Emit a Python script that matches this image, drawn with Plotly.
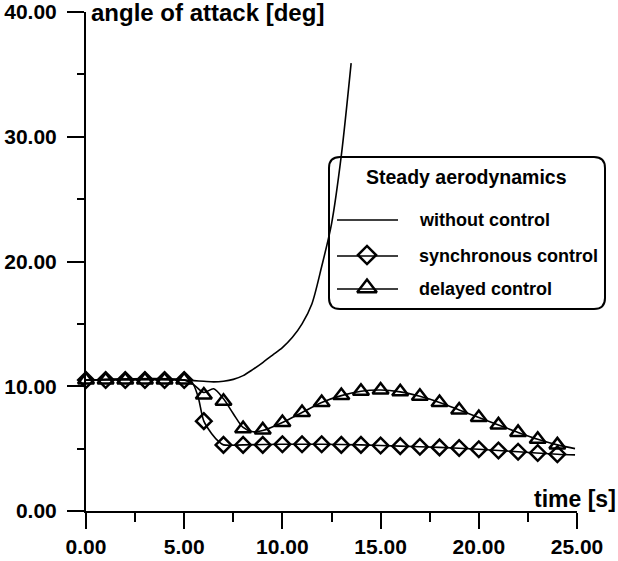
import plotly.graph_objects as go

# ---------------- data ----------------
t_nc_line = [0, 5, 5.5, 6, 6.5, 7, 7.5, 8, 8.5, 9, 9.5, 10, 10.5, 11, 11.5, 12, 12.5, 13, 13.5]
a_nc_line = [10.5, 10.5, 10.45, 10.4, 10.35, 10.4, 10.55, 10.85, 11.35, 11.9, 12.5, 13.1, 13.9, 15.0, 16.6, 19.6, 23.0, 28.5, 35.9]

t_sync_line = [0, 5, 5.4, 5.7, 6, 6.4, 6.8, 7, 8, 10, 12, 14, 16, 18, 20, 22, 24, 24.9]
a_sync_line = [10.5, 10.5, 10.3, 9.2, 7.2, 6.2, 5.5, 5.3, 5.3, 5.35, 5.35, 5.3, 5.2, 5.1, 4.95, 4.75, 4.55, 4.5]

t_del_line = [0, 5, 5.5, 6, 6.5, 7, 7.5, 8, 8.5, 9, 10, 11, 12, 13, 14, 15, 16, 17, 18, 19, 20, 21, 22, 23, 24, 24.9]
a_del_line = [10.5, 10.5, 10.1, 9.5, 9.8, 9.0, 7.8, 6.7, 6.35, 6.45, 7.1, 7.9, 8.7, 9.25, 9.6, 9.7, 9.55, 9.2, 8.7, 8.1, 7.5, 6.9, 6.3, 5.75, 5.3, 5.0]

t_marks = [0, 1, 2, 3, 4, 5, 6, 7, 8, 9, 10, 11, 12, 13, 14, 15, 16, 17, 18, 19, 20, 21, 22, 23, 24]
a_sync_marks = [10.5, 10.5, 10.5, 10.5, 10.5, 10.5, 7.2, 5.3, 5.3, 5.3, 5.35, 5.35, 5.35, 5.3, 5.3,
                5.25, 5.2, 5.15, 5.1, 5.05, 4.95, 4.85, 4.75, 4.65, 4.55]
a_del_marks = [10.5, 10.5, 10.5, 10.5, 10.5, 10.5, 9.3, 8.8, 6.6, 6.5, 7.1, 7.9, 8.7, 9.25, 9.6,
               9.7, 9.55, 9.2, 8.7, 8.1, 7.5, 6.9, 6.3, 5.75, 5.3]

x_ticks = [0, 5, 10, 15, 20, 25]
y_ticks = [0, 10, 20, 30, 40]

legend_title = "Steady aerodynamics"
legend_labels = ["without control", "synchronous control", "delayed control"]

# ---------------- layout geometry ----------------
W, H = 618, 561
ML, MR, MT, MB = 86, 41, 12, 50
PW, PH = W - ML - MR, H - MT - MB
FONT = "Liberation Sans, Arial, sans-serif"


def px_x(px):
    return (px - ML) / PW


def px_y(py):
    return (H - MB - py) / PH


fig = go.Figure()

LW = 1.6
fig.add_trace(go.Scatter(x=t_nc_line, y=a_nc_line, mode="lines",
                         line=dict(color="black", width=LW, shape="spline", smoothing=0.8),
                         showlegend=False, hoverinfo="skip"))
fig.add_trace(go.Scatter(x=t_sync_line, y=a_sync_line, mode="lines",
                         line=dict(color="black", width=LW, shape="spline", smoothing=0.8),
                         showlegend=False, hoverinfo="skip"))
fig.add_trace(go.Scatter(x=t_del_line, y=a_del_line, mode="lines",
                         line=dict(color="black", width=LW, shape="spline", smoothing=0.8),
                         showlegend=False, hoverinfo="skip"))
fig.add_trace(go.Scatter(x=t_marks, y=a_sync_marks, mode="markers",
                         marker=dict(symbol="diamond-open", size=12, color="black",
                                     line=dict(color="black", width=2.5)),
                         showlegend=False, cliponaxis=False))
fig.add_trace(go.Scatter(x=t_marks, y=a_del_marks, mode="markers",
                         marker=dict(symbol="triangle-up-open", size=14, color="black",
                                     line=dict(color="black", width=2.5)),
                         showlegend=False, cliponaxis=False))

# ---------------- custom legend (pixel overlay axes) ----------------
leg_rows = [220, 256, 289]
leg_symbols = [None, "diamond-open", "triangle-up-open"]
leg_sizes = [0, 14, 17]
for row, sym, sz in zip(leg_rows, leg_symbols, leg_sizes):
    fig.add_trace(go.Scatter(x=[337, 398], y=[row, row], mode="lines",
                             line=dict(color="black", width=LW),
                             xaxis="x2", yaxis="y2", showlegend=False, hoverinfo="skip"))
    if sym:
        fig.add_trace(go.Scatter(x=[367], y=[row - 1], mode="markers",
                                 marker=dict(symbol=sym, size=sz, color="black",
                                             line=dict(color="black", width=2.5)),
                                 xaxis="x2", yaxis="y2", showlegend=False,
                                 cliponaxis=False, hoverinfo="skip"))

annotations = []
annotations.append(dict(text="<b>" + legend_title + "</b>", x=px_x(466), y=px_y(177),
                        xref="paper", yref="paper", xanchor="center", yanchor="middle",
                        showarrow=False, font=dict(family=FONT, size=19.5, color="black")))
for row, lab in zip(leg_rows, legend_labels):
    annotations.append(dict(text="<b>" + lab + "</b>", x=px_x(417), y=px_y(row),
                            xref="paper", yref="paper", xanchor="left", yanchor="middle",
                            showarrow=False, font=dict(family=FONT, size=18, color="black")))

annotations.append(dict(text="<b>angle of attack [deg]</b>", x=px_x(89), y=px_y(12),
                        xref="paper", yref="paper", xanchor="left", yanchor="middle",
                        showarrow=False, font=dict(family=FONT, size=24, color="black")))
annotations.append(dict(text="<b>time [s]</b>", x=px_x(618), y=px_y(499),
                        xref="paper", yref="paper", xanchor="right", yanchor="middle",
                        showarrow=False, font=dict(family=FONT, size=23, color="black")))

# rounded legend box
bx0, bx1, by0, by1, r = 329, 605, 157, 309, 11
x0, x1 = px_x(bx0), px_x(bx1)
y0, y1 = px_y(by0), px_y(by1)
rx, ry = r / PW, r / PH
path = (f"M {x0+rx},{y0} L {x1-rx},{y0} Q {x1},{y0} {x1},{y0-ry} "
        f"L {x1},{y1+ry} Q {x1},{y1} {x1-rx},{y1} "
        f"L {x0+rx},{y1} Q {x0},{y1} {x0},{y1+ry} "
        f"L {x0},{y0-ry} Q {x0},{y0} {x0+rx},{y0} Z")
shapes = [dict(type="path", path=path, xref="paper", yref="paper",
               line=dict(color="black", width=2), fillcolor="rgba(0,0,0,0)", layer="above")]

tickfont = dict(family=FONT, size=21, color="black", weight="bold")

fig.update_layout(
    width=W, height=H,
    margin=dict(l=ML, r=MR, t=MT, b=MB, pad=0, autoexpand=False),
    paper_bgcolor="white", plot_bgcolor="white",
    showlegend=False,
    annotations=annotations,
    shapes=shapes,
    xaxis=dict(range=[-0.0001, 25.0001], tickvals=x_ticks, ticktext=[f"{v:.2f}" for v in x_ticks],
               automargin=False, ticklabeloverflow="allow",
               showgrid=False, zeroline=False, showline=True, linecolor="black", linewidth=2,
               ticks="outside", ticklen=16, tickwidth=2, tickcolor="black",
               tickfont=tickfont, ticklabelstandoff=0,
               minor=dict(dtick=2.5, ticks="outside", ticklen=9, tickwidth=2, tickcolor="black",
                          showgrid=False)),
    yaxis=dict(range=[-0.0001, 40.0001], tickvals=y_ticks, ticktext=[f"{v:.2f}" for v in y_ticks],
               automargin=False, ticklabeloverflow="allow",
               showgrid=False, zeroline=False, showline=True, linecolor="black", linewidth=2,
               ticks="outside", ticklen=17, tickwidth=2, tickcolor="black",
               tickfont=tickfont, ticklabelstandoff=6,
               minor=dict(dtick=5, ticks="outside", ticklen=7, tickwidth=2, tickcolor="black",
                          showgrid=False)),
    xaxis2=dict(range=[ML, W - MR], overlaying="x", visible=False, fixedrange=True),
    yaxis2=dict(range=[H - MB, MT], overlaying="y", visible=False, fixedrange=True),
)

fig.write_html("out.html")
